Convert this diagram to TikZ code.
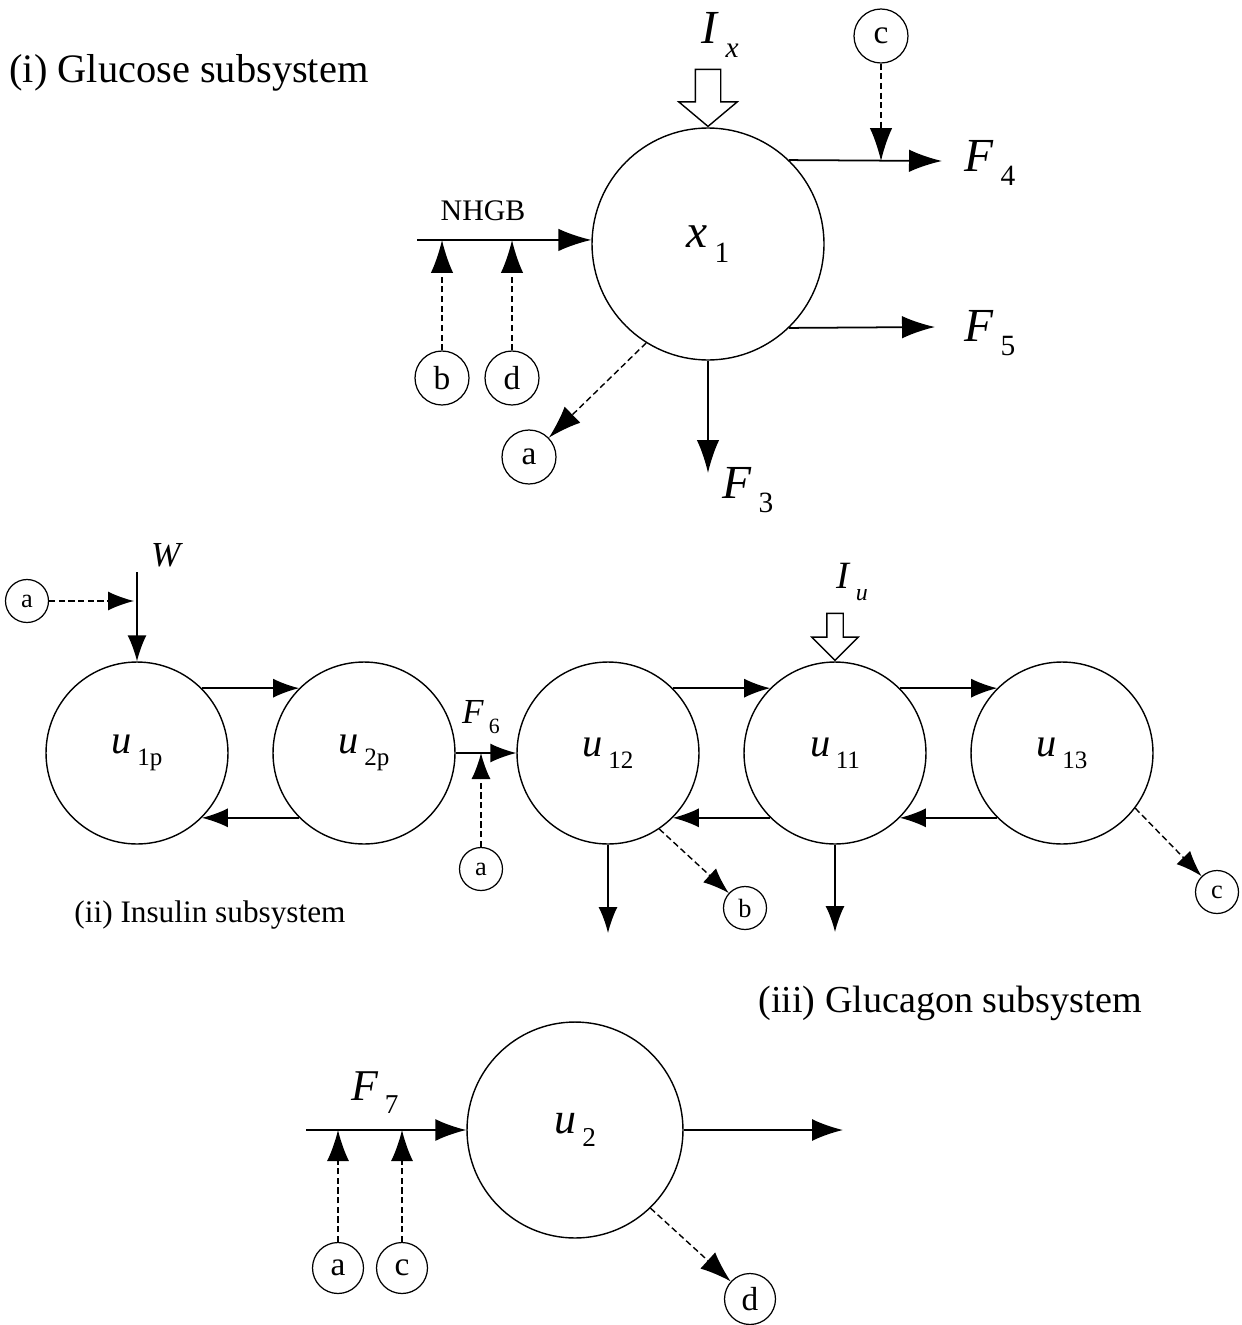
\documentclass[tikz,border=0pt]{standalone}
\usepackage{fontspec}
\setmainfont{Liberation Serif}
\usepackage{graphicx}
\usetikzlibrary{arrows.meta, shapes.arrows, positioning}
\tikzstyle{pool} = [circle, draw=black, line width=0.8pt, inner sep=0pt]
\tikzstyle{tag} = [circle, draw=black, line width=0.7pt, inner sep=0pt,
minimum size=1.08cm, font=\fontsize{19}{22}\selectfont]
\tikzstyle{smalltag} = [tag, minimum size=0.86cm, font=\fontsize{15}{18}\selectfont]
\tikzstyle{bigflow} = [-{Latex[length=6.6mm,width=4.5mm]}, line width=1pt]
\tikzstyle{midflow} = [-{Latex[length=6.2mm,width=4.4mm]}, line width=1pt]
\tikzstyle{smallflow} = [-{Latex[length=5.2mm,width=3.8mm]}, line width=0.9pt]
\tikzstyle{signal} = [dash pattern=on 3.5pt off 2pt, line width=0.8pt]
\tikzstyle{infusion} = [single arrow, draw=black, line width=0.8pt,
shape border rotate=270, anchor=tip]
\tikzstyle{title} = [font=\fontsize{22}{26}\selectfont]
\tikzstyle{biglabel} = [font=\fontsize{27}{30}\selectfont]
\tikzstyle{midlabel} = [font=\fontsize{23}{26}\selectfont]
\newcommand{\varsub}[2]{\textit{#1}\hspace{0.14em}\raisebox{-0.3em}{\scalebox{0.62}{#2}}}

\begin{document}
\begin{tikzpicture}[x=0.02cm, y=-0.02cm]
  \useasboundingbox (0,0) rectangle (1241,1325);

  % (i) glucose subsystem
  \node[title, font=\fontsize{23}{26}\selectfont] (glutitle) at (189,73) {(i) Glucose subsystem};
  \node[pool, minimum size=4.64cm, biglabel] (x1) at (708,244) {\varsub{x}{1}};
  \node[infusion, inner sep=0.24cm, minimum height=1.14cm, minimum width=1.14cm,
    single arrow head extend=0.33cm, single arrow tip angle=100] (ix) at (x1.north) {};
  \node[biglabel] (ixlbl) at (720,35) {\varsub{I}{\textit{x}}};
  \node[tag] (c1) at (881,36) {c};
  \node[tag] (b1) at (442,378) {b};
  \node[tag] (d1) at (512,378) {d};
  \node[tag] (a1) at (529,457) {a};
  \node[font=\fontsize{17}{20}\selectfont] (nhgb) at (483,211) {NHGB};
  \node[biglabel] (f4lbl) at (990,163) {\varsub{F}{4}};
  \node[biglabel] (f5lbl) at (990,333) {\varsub{F}{5}};
  \node[biglabel] (f3lbl) at (748,490) {\varsub{F}{3}};
  \coordinate (nhgbstart) at (417,240);
  \coordinate (bjoin) at (442,240);
  \coordinate (djoin) at (512,240);
  \coordinate (f4tip) at (942,161);
  \coordinate (cjoin) at (881,161);
  \coordinate (f5tip) at (935,327);
  \coordinate (f3tip) at (708,473);
  \draw[bigflow] (nhgbstart) -- (x1.178);
  \draw[bigflow, signal] (b1) -- (bjoin);
  \draw[bigflow, signal] (d1) -- (djoin);
  \draw[bigflow] (x1.46) -- (f4tip);
  \draw[bigflow, signal] (c1) -- (cjoin);
  \draw[bigflow] (x1.-46) -- (f5tip);
  \draw[bigflow] (x1.south) -- (f3tip);
  \draw[bigflow, signal] (x1.-122) -- (a1);

  % (ii) insulin subsystem
  \node[pool, minimum size=3.64cm, midlabel] (u1p) at (137,753) {\varsub{u}{1p}};
  \node[pool, minimum size=3.64cm, midlabel] (u2p) at (364,753) {\varsub{u}{2p}};
  \node[pool, minimum size=3.64cm, midlabel] (u12) at (608,753) {\varsub{u}{12}};
  \node[pool, minimum size=3.64cm, midlabel] (u11) at (835,753) {\varsub{u}{11}};
  \node[pool, minimum size=3.64cm, midlabel] (u13) at (1062,753) {\varsub{u}{13}};
  \node[infusion, inner sep=0.15cm, minimum height=0.94cm, minimum width=0.9cm,
    single arrow head extend=0.3cm, single arrow tip angle=90] (iu) at (u11.north) {};
  \node[font=\fontsize{22}{26}\selectfont] (iulbl) at (852,582) {\varsub{I}{\textit{u}}};
  \node[font=\fontsize{20}{24}\selectfont] (wlbl) at (167,555) {\textit{W}};
  \node[font=\fontsize{20}{24}\selectfont] (f6lbl) at (481,717) {\varsub{F}{6}};
  \node[smalltag] (a2) at (27,601) {a};
  \node[smalltag] (a3) at (481,869) {a};
  \node[smalltag] (b2) at (745,908) {b};
  \node[smalltag] (c2) at (1217,892) {c};
  \node[font=\fontsize{17.8}{20}\selectfont] (institle) at (210,915) {(ii) Insulin subsystem};
  \coordinate (wtop) at (137,572);
  \coordinate (wjoin) at (134,601);
  \coordinate (f6join) at (481,753);
  \coordinate (u12out) at (608,933);
  \coordinate (u11out) at (835,932);
  \draw[smallflow] (wtop) -- (u1p.north);
  \draw[smallflow, signal] (a2) -- (wjoin);
  \draw[smallflow] (u1p.45) -- (u2p.135);
  \draw[smallflow] (u2p.-135) -- (u1p.-45);
  \draw[smallflow] (u2p.east) -- (u12.west);
  \draw[smallflow, signal] (a3) -- (f6join);
  \draw[smallflow] (u12.45) -- (u11.135);
  \draw[smallflow] (u11.-135) -- (u12.-45);
  \draw[smallflow] (u11.45) -- (u13.135);
  \draw[smallflow] (u13.-135) -- (u11.-45);
  \draw[smallflow] (u12.south) -- (u12out);
  \draw[smallflow] (u11.south) -- (u11out);
  \draw[smallflow, signal] (u12.-56) -- (b2);
  \draw[smallflow, signal] (u13.-37) -- (c2);

  % (iii) glucagon subsystem
  \node[title, font=\fontsize{21.7}{26}\selectfont] (gcgtitle) at (950,1003) {(iii) Glucagon subsystem};
  \node[pool, minimum size=4.32cm, font=\fontsize{25}{28}\selectfont] (u2) at (575,1130) {\varsub{u}{2}};
  \node[font=\fontsize{25}{28}\selectfont] (f7lbl) at (375,1093) {\varsub{F}{7}};
  \node[tag, minimum size=1.02cm] (a4) at (338,1268) {a};
  \node[tag, minimum size=1.02cm] (c3) at (402,1268) {c};
  \node[tag, minimum size=1.02cm] (d2) at (750,1299) {d};
  \coordinate (f7start) at (306,1130);
  \coordinate (ajoin) at (338,1130);
  \coordinate (c3join) at (402,1130);
  \coordinate (u2out) at (843,1130);
  \draw[midflow] (f7start) -- (u2.west);
  \draw[midflow, signal] (a4) -- (ajoin);
  \draw[midflow, signal] (c3) -- (c3join);
  \draw[midflow] (u2.east) -- (u2out);
  \draw[midflow, signal] (u2.-46) -- (d2);
\end{tikzpicture}
\end{document}
